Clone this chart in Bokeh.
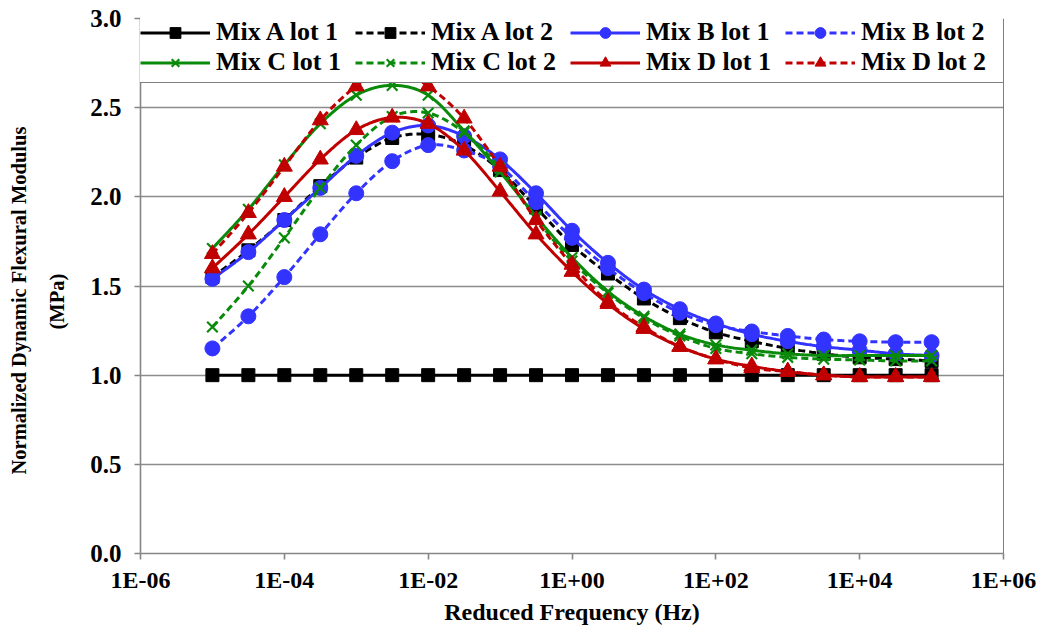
from bokeh.plotting import figure
from bokeh.models import (Range1d, FixedTicker, CustomJSTickFormatter, NumeralTickFormatter,
                          Legend, LegendItem, Span, Title)
from bokeh.embed import file_html
from bokeh.resources import INLINE

# Reduced frequency, as powers of ten (Hz)
LOG_FREQ = [-5.0, -4.5, -4.0, -3.5, -3.0, -2.5, -2.0, -1.5, -1.0, -0.5, 0.0,
            0.5, 1.0, 1.5, 2.0, 2.5, 3.0, 3.5, 4.0, 4.5, 5.0]

# Normalized dynamic flexural modulus for each mix / lot
MIX_A_LOT1 = [1.00, 1.00, 1.00, 1.00, 1.00, 1.00, 1.00, 1.00, 1.00, 1.00, 1.00,
              1.00, 1.00, 1.00, 1.00, 1.00, 1.00, 1.00, 1.00, 1.00, 1.00]
MIX_A_LOT2 = [1.55, 1.70, 1.87, 2.06, 2.22, 2.33, 2.35, 2.29, 2.15, 1.94, 1.73,
              1.57, 1.43, 1.32, 1.24, 1.19, 1.15, 1.12, 1.10, 1.09, 1.08]
MIX_B_LOT1 = [1.54, 1.69, 1.87, 2.05, 2.23, 2.36, 2.40, 2.34, 2.21, 2.02, 1.81,
              1.63, 1.48, 1.37, 1.29, 1.23, 1.19, 1.16, 1.14, 1.12, 1.11]
MIX_B_LOT2 = [1.15, 1.33, 1.55, 1.79, 2.02, 2.20, 2.29, 2.26, 2.17, 1.97, 1.77,
              1.60, 1.46, 1.35, 1.28, 1.245, 1.22, 1.20, 1.19, 1.185, 1.185]
MIX_C_LOT1 = [1.71, 1.93, 2.18, 2.41, 2.57, 2.625, 2.57, 2.37, 2.14, 1.89, 1.66,
              1.47, 1.33, 1.23, 1.17, 1.14, 1.12, 1.11, 1.11, 1.11, 1.11]
MIX_C_LOT2 = [1.27, 1.50, 1.77, 2.05, 2.29, 2.45, 2.47, 2.36, 2.16, 1.88, 1.64,
              1.46, 1.32, 1.22, 1.15, 1.12, 1.10, 1.09, 1.085, 1.08, 1.08]
MIX_D_LOT1 = [1.60, 1.79, 2.00, 2.21, 2.375, 2.445, 2.41, 2.26, 2.03, 1.79, 1.58,
              1.40, 1.26, 1.16, 1.09, 1.05, 1.02, 1.00, 0.99, 0.99, 0.99]
MIX_D_LOT2 = [1.68, 1.91, 2.17, 2.43, 2.62, 2.73, 2.62, 2.44, 2.17, 1.87, 1.62,
              1.41, 1.27, 1.16, 1.09, 1.04, 1.02, 1.00, 0.99, 0.99, 0.99]

X_TICKS = [1e-6, 1e-4, 1e-2, 1e0, 1e2, 1e4, 1e6]
Y_TICKS = [0.0, 0.5, 1.0, 1.5, 2.0, 2.5, 3.0]

X_TITLE = "Reduced Frequency (Hz)"
Y_TITLE_MAIN = "Normalized Dynamic Flexural Modulus"
Y_TITLE_UNIT = "(MPa)"

BLACK = "#000000"
BLUE = "#3333ff"
GREEN = "#0a8a0a"
RED = "#c00000"

SERIES = [
    ("Mix A lot 1", MIX_A_LOT1, BLACK, "solid", "square"),
    ("Mix A lot 2", MIX_A_LOT2, BLACK, "dashed", "square"),
    ("Mix B lot 1", MIX_B_LOT1, BLUE, "solid", "circle"),
    ("Mix B lot 2", MIX_B_LOT2, BLUE, "dashed", "circle"),
    ("Mix C lot 1", MIX_C_LOT1, GREEN, "solid", "x"),
    ("Mix C lot 2", MIX_C_LOT2, GREEN, "dashed", "x"),
    ("Mix D lot 1", MIX_D_LOT1, RED, "solid", "triangle"),
    ("Mix D lot 2", MIX_D_LOT2, RED, "dashed", "triangle"),
]

FONT = "Liberation Serif"


def smooth_curve(xs, ys, steps=24):
    """Cubic Bezier smoothing through every point (Catmull-Rom style handles),
    evaluated in log-frequency so it follows the plotted axis."""
    out_x, out_y = [], []
    n = len(xs)
    for i in range(n - 1):
        x0, y0 = (xs[i - 1], ys[i - 1]) if i > 0 else (xs[i], ys[i])
        x1, y1 = xs[i], ys[i]
        x2, y2 = xs[i + 1], ys[i + 1]
        x3, y3 = (xs[i + 2], ys[i + 2]) if i + 2 < n else (xs[i + 1], ys[i + 1])
        c1x, c1y = x1 + (x2 - x0) / 6.0, y1 + (y2 - y0) / 6.0
        c2x, c2y = x2 - (x3 - x1) / 6.0, y2 - (y3 - y1) / 6.0
        for k in range(steps + (1 if i == n - 2 else 0)):
            t = k / steps
            a, b, c, d = (1 - t) ** 3, 3 * (1 - t) ** 2 * t, 3 * (1 - t) * t ** 2, t ** 3
            out_x.append(a * x1 + b * c1x + c * c2x + d * x2)
            out_y.append(a * y1 + b * c1y + c * c2y + d * y2)
    return out_x, out_y


p = figure(width=1046, height=631, x_axis_type="log",
           x_range=Range1d(1e-6, 1e6), y_range=Range1d(0, 3),
           output_backend="svg", toolbar_location=None,
           min_border_left=140, min_border_right=43,
           min_border_top=18, min_border_bottom=78)

p.outline_line_color = None
p.background_fill_color = "white"
p.border_fill_color = "white"

# grid
p.xgrid.visible = False
p.ygrid.grid_line_color = "#8c8c8c"
p.ygrid.grid_line_width = 1.6
p.ygrid.ticker = FixedTicker(ticks=Y_TICKS)

# axes
for ax in (p.xaxis[0], p.yaxis[0]):
    ax.axis_line_color = "#868686"
    ax.axis_line_width = 1.6
    ax.major_tick_line_color = "#868686"
    ax.major_tick_line_width = 1.6
    ax.major_tick_out = 6
    ax.major_tick_in = 0
    ax.minor_tick_line_color = None
    ax.major_label_text_font = FONT
    ax.major_label_text_font_style = "bold"
    ax.major_label_text_color = "black"
    ax.axis_label_text_font = FONT
    ax.axis_label_text_font_style = "bold"
    ax.axis_label_text_color = "black"

p.xaxis.ticker = FixedTicker(ticks=X_TICKS)
p.xaxis.formatter = CustomJSTickFormatter(code="""
    const e = Math.round(Math.log10(tick));
    const s = e < 0 ? '-' : '+';
    return '1E' + s + String(Math.abs(e)).padStart(2, '0');
""")
p.xaxis.major_label_text_font_size = "24px"
p.xaxis.axis_label = X_TITLE
p.xaxis.axis_label_text_font_size = "24px"
p.xaxis.axis_label_standoff = 3
p.xaxis.major_label_standoff = 7

p.yaxis.ticker = FixedTicker(ticks=Y_TICKS)
p.yaxis.formatter = NumeralTickFormatter(format="0.0")
p.yaxis.major_label_text_font_size = "25px"
p.yaxis.major_label_standoff = 13

# vertical two-line title: unit line nearest the axis, main line outside it;
# anchored from the bottom so the block sits a little below the frame centre
p.add_layout(Title(text=Y_TITLE_UNIT, align="left", offset=224, standoff=39,
                   text_font=FONT, text_font_style="bold", text_font_size="20.5px",
                   text_color="black"), "left")
p.add_layout(Title(text=Y_TITLE_MAIN, align="left", offset=79, standoff=-10,
                   text_font=FONT, text_font_style="bold", text_font_size="20.5px",
                   text_color="black"), "left")

# right-hand frame edge
p.add_layout(Span(location=1e6, dimension="height", line_color="black", line_width=1))

items = {}
for name, vals, color, dash, marker in SERIES:
    freq = [10 ** e for e in LOG_FREQ]
    sx, sy = smooth_curve(LOG_FREQ, vals)
    line = p.line([10 ** v for v in sx], sy, line_color=color, line_width=3,
                  line_dash=("7 4" if dash == "dashed" else "solid"))
    if marker == "x":
        pts = p.scatter(freq, vals, marker="x", size=15, line_color=color, line_width=2.2)
    elif marker == "square":
        pts = p.scatter(freq, vals, marker="square", size=13, fill_color=color, line_color=color)
    elif marker == "circle":
        pts = p.scatter(freq, vals, marker="circle", size=15, fill_color=color, line_color=color)
    else:
        pts = p.scatter(freq, vals, marker="triangle", size=16, fill_color=color, line_color=color)
    items[name] = LegendItem(label=name, renderers=[line, pts])

# the legend grid fills column by column: list entries so rows read A, B / C, D
LEGEND_ORDER = ["Mix A lot 1", "Mix C lot 1", "Mix A lot 2", "Mix C lot 2",
                "Mix B lot 1", "Mix D lot 1", "Mix B lot 2", "Mix D lot 2"]

legend = Legend(items=[items[k] for k in LEGEND_ORDER], ncols=4, location=(-6, 470),
                label_text_font=FONT, label_text_font_style="bold",
                label_text_font_size="26px", label_text_color="black",
                glyph_width=70, glyph_height=27, label_height=27, label_width=139,
                label_standoff=6, spacing=0, padding=5, margin=0,
                border_line_color="black", border_line_width=1.5,
                background_fill_color="white", background_fill_alpha=1.0)
p.add_layout(legend, "center")

open("out.html", "w").write(file_html(p, INLINE))
